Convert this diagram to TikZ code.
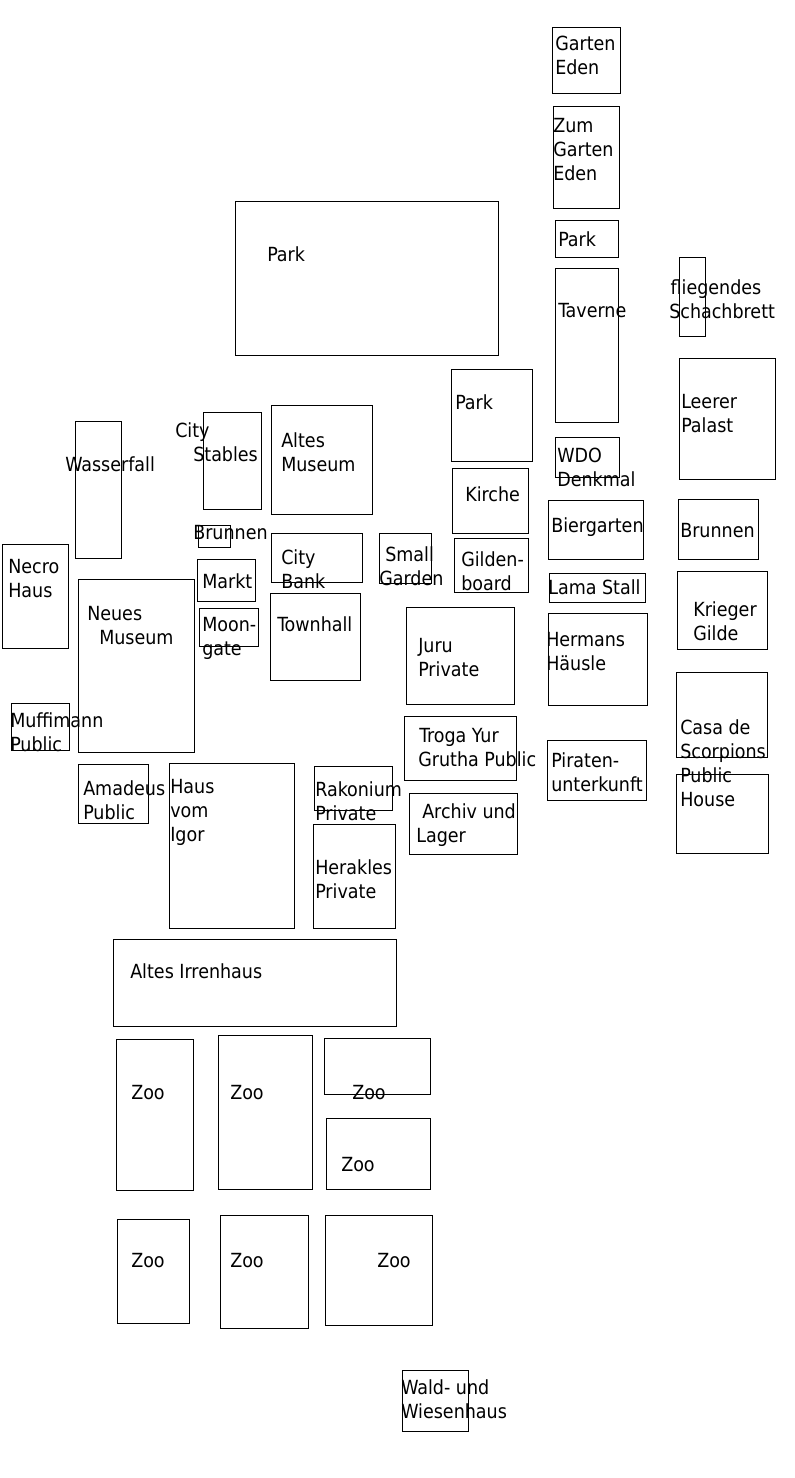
\documentclass[tikz,border=0pt]{standalone}
\usepackage{fontspec}
\setmainfont{DejaVu Sans Condensed}
\tikzset{
  roomlabel/.style={anchor=north west, inner sep=0pt, align=left,
    font=\fontsize{14.6}{18}\selectfont, execute at begin node=\strut},
  roombox/.style={draw=black, line width=0.75pt}
}
\begin{document}
\begin{tikzpicture}[
        x=0.75pt,
        y=-0.75pt]
\useasboundingbox (0,0) rectangle (795,1478);
\foreach \xa/\ya/\xb/\yb in {552/27/620/93, 553/106/619/208, 555/220/618/257, 555/268/618/422,
    679/257/705/336, 679/358/775/479, 235/201/498/355, 451/369/532/461, 555/437/619/477,
    203/412/261/509, 271/405/372/514, 75/421/121/558, 452/468/528/533, 548/500/643/559,
    678/499/758/559, 198/525/230/547, 271/533/362/582, 379/533/431/583, 454/538/528/592,
    2/544/68/648, 197/559/255/601, 549/573/645/602, 677/571/767/649, 78/579/194/752,
    199/608/258/646, 270/593/360/680, 406/607/514/704, 548/613/647/705, 676/672/767/757,
    11/703/69/750, 404/716/516/780, 547/740/646/800, 78/764/148/823, 169/763/294/928,
    314/766/392/810, 409/793/517/854, 676/774/768/853, 313/824/395/928, 113/939/396/1026,
    116/1039/193/1190, 218/1035/312/1189, 324/1038/430/1094, 326/1118/430/1189,
    117/1219/189/1323, 220/1215/308/1328, 325/1215/432/1325, 402/1370/468/1431}{
    \draw[roombox] (\xa,\ya) rectangle (\xb,\yb);
}
% labels
\node[roomlabel] (garten) at (555,36) {Garten\\Eden};
\node[roomlabel] (zumgarten) at (553,118) {Zum\\Garten\\Eden};
\node[roomlabel] (parknorth) at (558,229) {Park};
\node[roomlabel] (taverne) at (558,300) {Taverne};
\node[roomlabel] (schach) at (669,279) {\hspace*{1pt}fliegendes\\Schachbrett};
\node[roomlabel] (parkbig) at (267,244) {Park};
\node[roomlabel] (parkmid) at (455,392) {Park};
\node[roomlabel] (palast) at (681,394) {Leerer\\Palast};
\node[roomlabel] (stables) at (175,422) {City\\\hspace*{13.5pt}Stables};
\node[roomlabel] (altesmuseum) at (281,432) {Altes\\Museum};
\node[roomlabel] (wasserfall) at (65,454) {Wasserfall};
\node[roomlabel] (wdo) at (557,448) {WDO\\Denkmal};
\node[roomlabel] (kirche) at (465,484) {Kirche};
\node[roomlabel] (biergarten) at (551,515) {Biergarten};
\node[roomlabel] (brunneneast) at (680,520) {Brunnen};
\node[roomlabel] (brunnenwest) at (193,522) {Brunnen};
\node[roomlabel] (citybank) at (281,549) {City\\Bank};
\node[roomlabel] (smallgarden) at (379,546) {\hspace*{4.5pt}Small\\Garden};
\node[roomlabel] (gilden) at (461,551) {Gilden-\\board};
\node[roomlabel] (necro) at (8,559) {Necro\\Haus};
\node[roomlabel] (markt) at (202,571) {Markt};
\node[roomlabel] (lama) at (548,577) {Lama Stall};
\node[roomlabel] (krieger) at (693,601) {Krieger\\Gilde};
\node[roomlabel] (neues) at (87,606) {Neues\\\hspace*{9pt}Museum};
\node[roomlabel] (moongate) at (202,617) {Moon-\\gate};
\node[roomlabel] (townhall) at (277,614) {Townhall};
\node[roomlabel] (hermans) at (546,632) {Hermans\\Häusle};
\node[roomlabel] (juru) at (418,638) {Juru\\Private};
\node[roomlabel] (muffimann) at (10,712) {Muffimann\\Public};
\node[roomlabel] (troga) at (418,728) {\hspace*{0.75pt}Troga Yur\\Grutha Public};
\node[roomlabel] (casa) at (680,719) {Casa de\\Scorpions\\Public\\House};
\node[roomlabel] (piraten) at (551,752) {Piraten-\\unterkunft};
\node[roomlabel] (amadeus) at (83,780) {Amadeus\\Public};
\node[roomlabel] (igor) at (170,779) {Haus\\vom\\Igor};
\node[roomlabel] (rakonium) at (315,781) {Rakonium\\Private};
\node[roomlabel] (archiv) at (416,803) {\hspace*{4.5pt}Archiv und\\Lager};
\node[roomlabel] (herakles) at (315,859) {Herakles\\Private};
\node[roomlabel] (irrenhaus) at (130,961) {Altes Irrenhaus};
\node[roomlabel] (zooa) at (131,1082) {Zoo};
\node[roomlabel] (zoob) at (230,1082) {Zoo};
\node[roomlabel] (zooc) at (352,1082) {Zoo};
\node[roomlabel] (zood) at (341,1154) {Zoo};
\node[roomlabel] (zooe) at (131,1250) {Zoo};
\node[roomlabel] (zoof) at (230,1250) {Zoo};
\node[roomlabel] (zoog) at (377,1250) {Zoo};
\node[roomlabel] (wald) at (401,1379) {Wald- und\\Wiesenhaus};
\end{tikzpicture}
\end{document}
